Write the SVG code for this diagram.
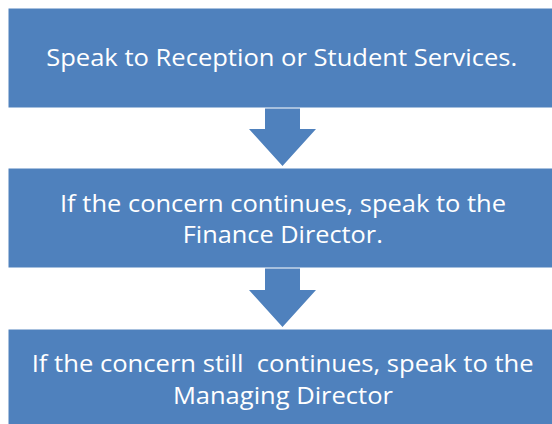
<svg xmlns="http://www.w3.org/2000/svg" width="552" height="424" viewBox="0 0 552 424">
<style>
.box{fill:#4F81BD;stroke:#ffffff;stroke-width:1}
.arrow{fill:#4F81BD;stroke:none}
.lbl{font-family:"Open Sans","Liberation Sans",sans-serif;font-size:24px;fill:#ffffff;text-anchor:middle;white-space:pre}
</style>
<rect width="552" height="424" fill="#ffffff"/>
<g id="connectors">
<path class="arrow" d="M265,108 L300,108 L300,129 L316,129 L282.5,166 L249,129 L265,129 Z"/>
<path class="arrow" d="M265,268 L300,268 L300,290 L316,290 L282.5,327 L249,290 L265,290 Z"/>
</g>
<g id="node1">
<rect class="box" x="8" y="8" width="549" height="100"/>
<text class="lbl" x="281.7" y="65.7" textLength="471" lengthAdjust="spacingAndGlyphs">Speak to Reception or Student Services.</text>
</g>
<g id="node2">
<rect class="box" x="8" y="168" width="549" height="100"/>
<text class="lbl" x="283" y="211.7" textLength="446" lengthAdjust="spacingAndGlyphs">If the concern continues, speak to the</text>
<text class="lbl" x="282.8" y="242.7" textLength="200" lengthAdjust="spacingAndGlyphs">Finance Director.</text>
</g>
<g id="node3">
<rect class="box" x="8" y="329" width="549" height="100"/>
<text class="lbl" x="282.7" y="372" textLength="502" lengthAdjust="spacingAndGlyphs">If the concern still  continues, speak to the</text>
<text class="lbl" x="282.9" y="404" textLength="220" lengthAdjust="spacingAndGlyphs">Managing Director</text>
</g>
</svg>
